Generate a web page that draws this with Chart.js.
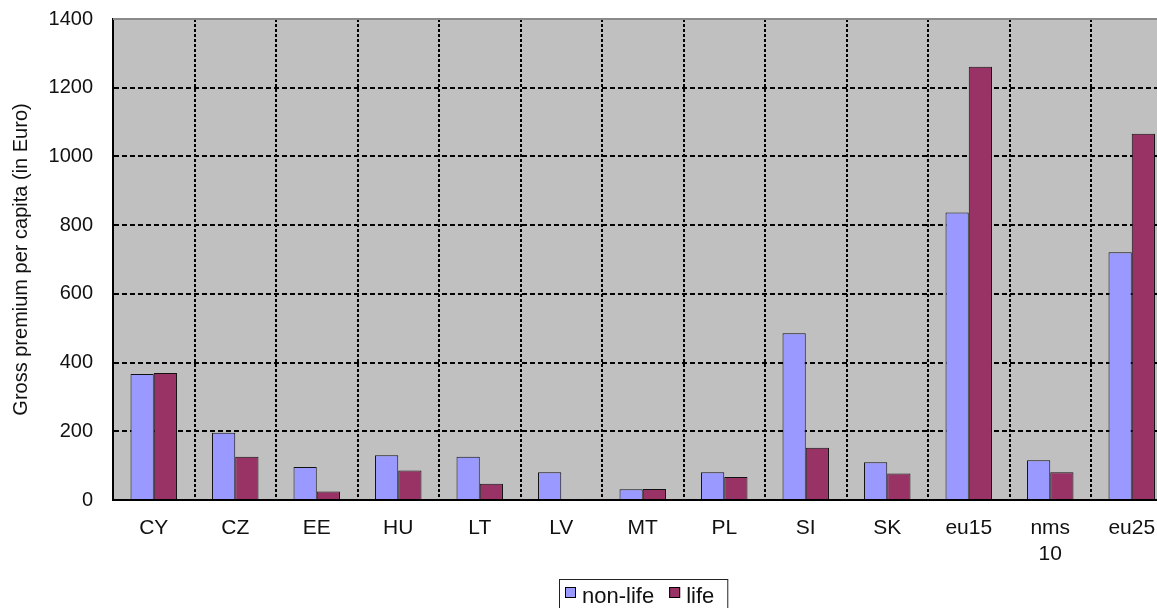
<!DOCTYPE html>
<html>
<head>
<meta charset="utf-8">
<title>Gross premium per capita</title>
<script src="https://cdn.jsdelivr.net/npm/chart.js@4.4.1/dist/chart.umd.min.js"></script>
<style>
  html, body { margin: 0; padding: 0; background: #fff; overflow: hidden; }
  #wrap { position: relative; width: 1185px; height: 608px; }
</style>
</head>
<body>
<div id="wrap"><canvas id="chart"></canvas></div>
<script>
// Gross premium per capita (in Euro), non-life vs life
const categories = ['CY', 'CZ', 'EE', 'HU', 'LT', 'LV', 'MT', 'PL', 'SI', 'SK', 'eu15', ['nms', '10'], 'eu25'];
const nonLife = [367, 196, 96, 130, 126, 81, 31, 81, 485, 110, 837, 116, 721];
const life = [370, 126, 25, 86, 47, 2, 32, 67, 152, 77, 1261, 81, 1066];
const seriesNames = ['non-life', 'life'];
const seriesColors = ['#9999ff', '#993366'];
const yTicks = { min: 0, max: 1400, step: 200 };

const FONT = "'Liberation Sans', Arial, sans-serif";

// grey plot background + grey top frame line
const plotBg = {
  id: 'plotBg',
  beforeDraw(chart) {
    const a = chart.chartArea;
    const c = chart.ctx;
    c.save();
    c.fillStyle = '#c0c0c0';
    c.fillRect(a.left, a.top, a.right - a.left, a.bottom - a.top);
    c.restore();
  },
  afterDraw(chart) {
    const a = chart.chartArea;
    const c = chart.ctx;
    c.save();
    c.strokeStyle = '#8a8a8a';
    c.lineWidth = 2;
    c.beginPath();
    c.moveTo(a.left, a.top);
    c.lineTo(a.right, a.top);
    c.stroke();
    c.restore();
  }
};

// boxed legend under the axis, centred on the plot
const boxLegend = {
  id: 'boxLegend',
  afterDraw(chart) {
    const c = chart.ctx;
    const a = chart.chartArea;
    c.save();
    c.font = '22px ' + FONT;
    const sq = 11, gapSq = 10, gapItem = 11, padL = 6, padR = 9;
    let total = padL + padR;
    chart.data.datasets.forEach((ds, i) => {
      total += sq + gapSq + c.measureText(ds.label).width;
      if (i > 0) total += gapItem;
    });
    const cx = (a.left + a.right) / 2;
    let x = Math.round(cx - total / 2);
    const top = 579;
    c.strokeStyle = '#222';
    c.lineWidth = 1;
    c.strokeRect(x + 0.5, top + 0.5, total, 40);
    x += padL;
    chart.data.datasets.forEach((ds, i) => {
      if (i > 0) x += gapItem;
      c.fillStyle = ds.backgroundColor;
      c.fillRect(x, 587, sq, sq);
      c.strokeStyle = '#000';
      c.strokeRect(x + 0.5, 587.5, sq - 1, sq - 1);
      x += sq + gapSq;
      c.fillStyle = '#111';
      c.textBaseline = 'alphabetic';
      c.fillText(ds.label, x - 4, 603);
      x += c.measureText(ds.label).width;
    });
    c.restore();
  }
};

const chart = new Chart(document.getElementById('chart'), {
  type: 'bar',
  data: {
    labels: categories,
    datasets: [
      {
        label: seriesNames[0],
        data: nonLife,
        backgroundColor: seriesColors[0],
        borderColor: '#111',
        borderWidth: 1,
        categoryPercentage: 0.57,
        barPercentage: 1
      },
      {
        label: seriesNames[1],
        data: life,
        backgroundColor: seriesColors[1],
        borderColor: '#111',
        borderWidth: 1,
        categoryPercentage: 0.57,
        barPercentage: 1
      }
    ]
  },
  options: {
    responsive: true,
    maintainAspectRatio: false,
    animation: false,
    layout: { padding: { left: 0, right: 12.5, top: 19, bottom: 0 } },
    plugins: {
      legend: { display: false },
      tooltip: { enabled: false }
    },
    scales: {
      x: {
        grid: {
          offset: true,
          color: '#000',
          lineWidth: 2,
          drawTicks: false
        },
        border: { display: true, color: '#000', width: 2, dash: [3, 2] },
        ticks: {
          color: '#111',
          font: { family: FONT, size: 21 },
          padding: 16,
          maxRotation: 0,
          autoSkip: false
        },
        afterFit(scale) { scale.height = 108; }
      },
      y: {
        min: yTicks.min,
        max: yTicks.max,
        grid: {
          color: (ctx) => ctx.tick && ctx.tick.value === yTicks.max ? 'rgba(0,0,0,0)' : '#000',
          lineWidth: 2,
          drawTicks: false
        },
        border: { display: true, color: '#000', width: 2, dash: [5, 3] },
        ticks: {
          stepSize: yTicks.step,
          color: '#111',
          font: { family: FONT, size: 20 },
          padding: 20,
          callback: (v) => String(v)
        },
        title: {
          display: true,
          text: 'Gross premium per capita (in Euro)',
          color: '#111',
          font: { family: FONT, size: 20 },
          padding: { top: 9, bottom: 0 }
        },
        afterFit(scale) {
          scale.width = 113;
          scale.paddingTop = 0;
          scale.paddingBottom = 0;
        }
      }
    }
  },
  plugins: [plotBg, boxLegend]
});
</script>
</body>
</html>
